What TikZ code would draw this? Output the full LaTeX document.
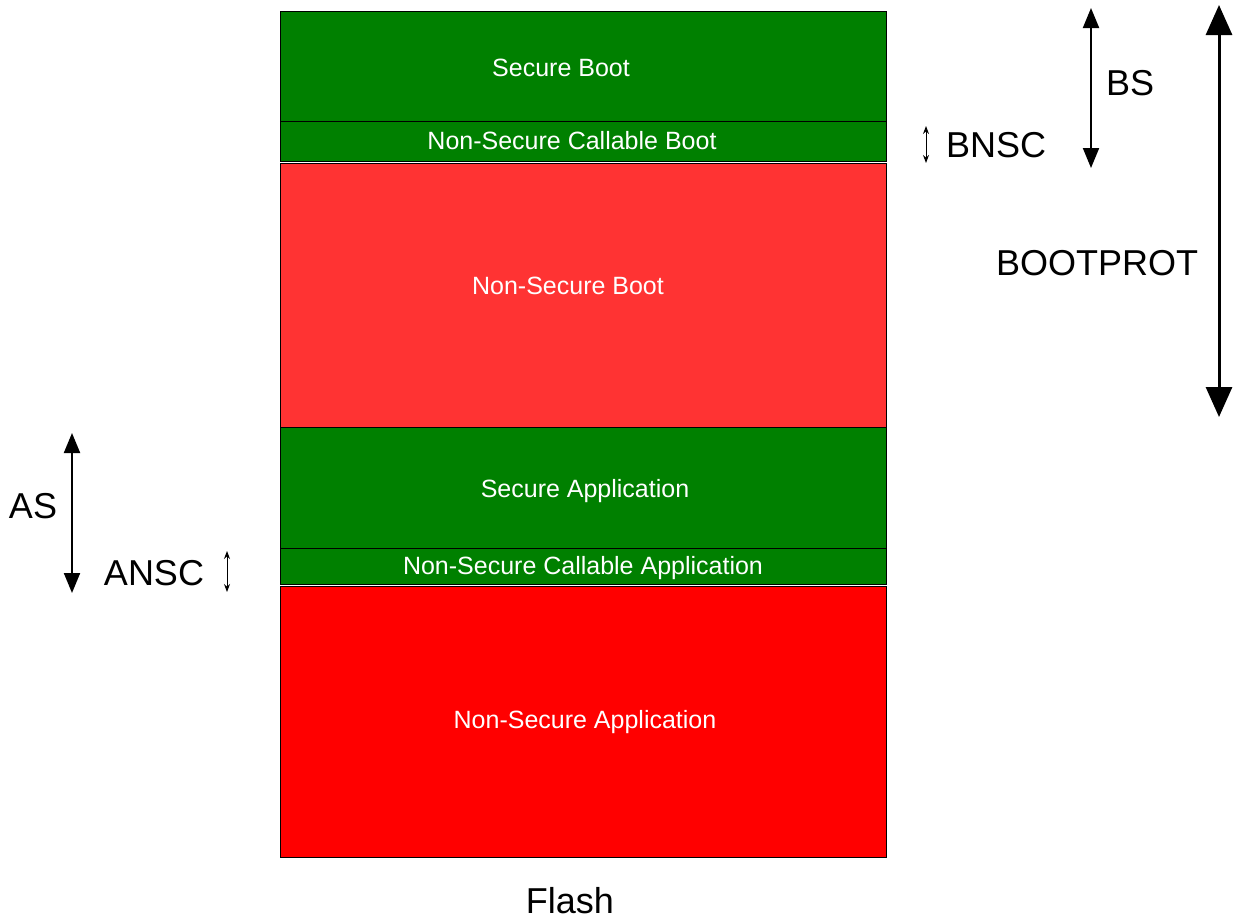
\documentclass[tikz,border=0pt]{standalone}
\usepackage{fontspec}
\setmainfont{Liberation Sans}
\usetikzlibrary{arrows.meta}
\definecolor{secgreen}{HTML}{008000}
\definecolor{lightred}{HTML}{FF3333}
\definecolor{fullred}{HTML}{FF0000}
\begin{document}
\begin{tikzpicture}[x=1pt,y=-1pt,
  region/.style={draw=black,line width=1pt,anchor=north west,inner sep=0pt,outer sep=0pt,minimum width=606pt},
  intext/.style={text=white,font=\fontsize{25}{30}\selectfont,inner sep=0pt,anchor=base},
  bigtext/.style={text=black,font=\fontsize{36}{42}\selectfont,inner sep=0pt,anchor=base},
  bigarrow/.style={line width=3pt,{Triangle[length=30pt,width=26pt]}-{Triangle[length=30pt,width=26pt]}},
  midarrow/.style={line width=2pt,{Triangle[length=20pt,width=16pt]}-{Triangle[length=20pt,width=16pt]}},
  smallarrow/.style={line width=1pt,{Stealth[length=8pt,width=6pt]}-{Stealth[length=8pt,width=6pt]}}]
\useasboundingbox (0,0) rectangle (1236,918);
% regions
\node[region,fill=secgreen,minimum height=110pt] (sb) at (280,11) {};
\node[region,fill=secgreen,minimum height=40pt] (nscb) at (280,121) {};
\node[region,fill=lightred,minimum height=264pt] (nsb) at (280,163) {};
\node[region,fill=secgreen,minimum height=121pt] (sa) at (280,427) {};
\node[region,fill=secgreen,minimum height=36pt] (nsca) at (280,548) {};
\node[region,fill=fullred,minimum height=271pt] (nsa) at (280,586) {};
% texts
\node[intext] (tsb) at (561,76) {Secure Boot};
\node[intext] (tnscb) at (572,149) {Non-Secure Callable Boot};
\node[intext] (tnsb) at (568,294) {Non-Secure Boot};
\node[intext] (tsa) at (585,497) {Secure Application};
\node[intext] (tnsca) at (583,574) {Non-Secure Callable Application};
\node[intext] (tnsa) at (585,728) {Non-Secure Application};
\node[bigtext] (flash) at (570,913) {Flash};
% labels
\node[bigtext] (lbs) at (1130,95) {BS};
\node[bigtext] (lbnsc) at (996,157) {BNSC};
\node[bigtext] (lboot) at (1097,275) {BOOTPROT};
\node[bigtext] (las) at (33,518) {AS};
\node[bigtext] (lansc) at (154,585) {ANSC};
% arrow ends
\coordinate (bsT) at (1091,8);
\coordinate (bsB) at (1091,168);
\coordinate (bnT) at (926,126);
\coordinate (bnB) at (926,163);
\coordinate (bpT) at (1219,5);
\coordinate (bpB) at (1219,417);
\coordinate (asT) at (72,433);
\coordinate (asB) at (72,593);
\coordinate (anT) at (227,551);
\coordinate (anB) at (227,592);
\draw[midarrow] (bsT) -- (bsB);
\draw[smallarrow] (bnT) -- (bnB);
\draw[bigarrow] (bpT) -- (bpB);
\draw[midarrow] (asT) -- (asB);
\draw[smallarrow] (anT) -- (anB);
\end{tikzpicture}
\end{document}
